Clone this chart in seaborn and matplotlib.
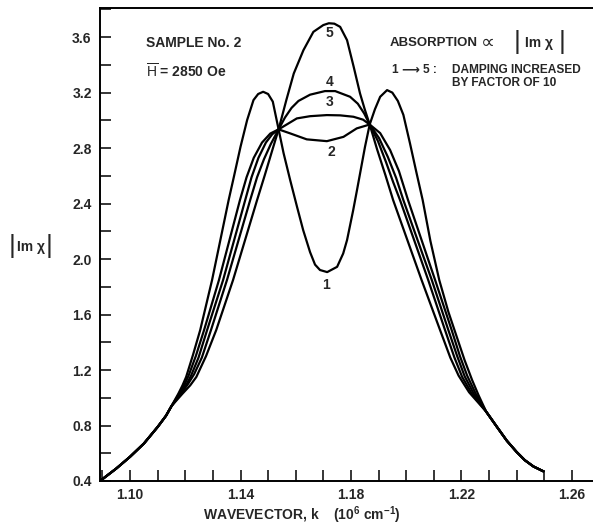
import matplotlib
matplotlib.use("Agg")
import matplotlib.pyplot as plt
from matplotlib.ticker import MultipleLocator
import pandas as pd
import seaborn as sns

# --- dane (k w 1e6 cm^-1, |Im chi|) ---
tail_left_k = [1.0891, 1.0950, 1.1000, 1.1050, 1.1100, 1.1130, 1.1150]
tail_left_v = [0.40, 0.49, 0.575, 0.67, 0.79, 0.87, 0.94]
tail_right_k = [1.2290, 1.2329, 1.2365, 1.2400, 1.2430, 1.2461, 1.2497]
tail_right_v = [0.90, 0.79, 0.69, 0.61, 0.55, 0.505, 0.47]

k1 = [1.1175, 1.1190, 1.1203, 1.1228, 1.1254, 1.1297, 1.1357, 1.1376, 1.1400, 1.1424,
      1.1447, 1.1464, 1.1482, 1.1500, 1.1517, 1.1538, 1.1556, 1.1580, 1.1605, 1.1627,
      1.1652, 1.1670, 1.1688, 1.1714, 1.1750, 1.1772, 1.1786, 1.1808, 1.1822, 1.1851,
      1.1868, 1.1887, 1.1906, 1.1931, 1.1950, 1.1970, 1.1990, 1.2014, 1.2038, 1.2060,
      1.2088, 1.2120, 1.2153, 1.2185, 1.2212, 1.2239, 1.2262]
v1 = [1.03, 1.09, 1.15, 1.31, 1.488, 1.849, 2.425, 2.593, 2.809, 3.002,
      3.146, 3.19, 3.206, 3.19, 3.135, 2.935, 2.764, 2.569, 2.375, 2.209,
      2.05, 1.96, 1.921, 1.906, 1.944, 2.04, 2.137, 2.35, 2.497, 2.809,
      2.97, 3.08, 3.17, 3.218, 3.20, 3.14, 3.04, 2.834, 2.618, 2.425,
      2.13, 1.849, 1.62, 1.43, 1.27, 1.128, 1.02]

k2 = [1.1178, 1.1198, 1.1212, 1.1238, 1.1268, 1.1322, 1.1398, 1.1422, 1.1448, 1.1478,
      1.1508, 1.1538, 1.1580, 1.1640, 1.1713, 1.1773, 1.1821, 1.1868, 1.1906, 1.1942,
      1.1974, 1.2007, 1.2105, 1.2165, 1.2195, 1.2221, 1.2252]
v2 = [1.03, 1.10, 1.16, 1.30, 1.488, 1.849, 2.425, 2.59, 2.73, 2.84,
      2.905, 2.935, 2.906, 2.863, 2.85, 2.881, 2.942, 2.97, 2.908, 2.786,
      2.634, 2.425, 1.849, 1.488, 1.30, 1.16, 1.03]

k3 = [1.1182, 1.1205, 1.1221, 1.1248, 1.1279, 1.1337, 1.1417, 1.1440, 1.1465, 1.1492,
      1.1515, 1.1538, 1.1604, 1.1652, 1.1713, 1.1761, 1.1809, 1.1844, 1.1868, 1.1902,
      1.1934, 1.1964, 1.1990, 1.2093, 1.2153, 1.2185, 1.2212, 1.2245]
v3 = [1.03, 1.10, 1.16, 1.29, 1.488, 1.849, 2.425, 2.59, 2.73, 2.84,
      2.90, 2.935, 3.014, 3.03, 3.038, 3.036, 3.026, 3.005, 2.97, 2.872,
      2.735, 2.584, 2.425, 1.849, 1.488, 1.30, 1.155, 1.03]

k4 = [1.1185, 1.1210, 1.1232, 1.1260, 1.1293, 1.1351, 1.1435, 1.1460, 1.1485, 1.1510,
      1.1538, 1.1561, 1.1585, 1.1610, 1.1652, 1.1706, 1.1743, 1.1797, 1.1825, 1.1848,
      1.1868, 1.1898, 1.1927, 1.1953, 1.1978, 1.2080, 1.2141, 1.2175, 1.2203, 1.2238]
v4 = [1.03, 1.10, 1.17, 1.29, 1.488, 1.849, 2.425, 2.59, 2.72, 2.83,
      2.935, 3.02, 3.09, 3.14, 3.185, 3.211, 3.211, 3.17, 3.12, 3.05,
      2.97, 2.85, 2.70, 2.555, 2.425, 1.849, 1.488, 1.29, 1.15, 1.03]

k5 = [1.1190, 1.1218, 1.1240, 1.1275, 1.1312, 1.1373, 1.1460, 1.1488, 1.1512, 1.1538,
      1.1566, 1.1593, 1.1628, 1.1664, 1.1700, 1.1720, 1.1740, 1.1761, 1.1786, 1.1810,
      1.1833, 1.1850, 1.1868, 1.1895, 1.1925, 1.1953, 1.2056, 1.2123, 1.2160, 1.2190,
      1.2228]
v5 = [1.03, 1.09, 1.15, 1.30, 1.488, 1.849, 2.425, 2.605, 2.764, 2.935,
      3.146, 3.338, 3.506, 3.638, 3.687, 3.700, 3.697, 3.674, 3.578, 3.386,
      3.194, 3.08, 2.97, 2.79, 2.605, 2.425, 1.849, 1.488, 1.29, 1.16,
      1.04]

curve_names = ['1', '2', '3', '4', '5']

x_ticks = [1.10, 1.14, 1.18, 1.22, 1.26]
y_ticks = [0.4, 0.8, 1.2, 1.6, 2.0, 2.4, 2.8, 3.2, 3.6]

rows = []
for name, kk, vv in zip(curve_names, [k1, k2, k3, k4, k5], [v1, v2, v3, v4, v5]):
    for k, v in zip(tail_left_k + kk + tail_right_k, tail_left_v + vv + tail_right_v):
        rows.append({'curve': name, 'k': k, 'v': v})
df = pd.DataFrame(rows)

sns.set_style('ticks')
FONT = 'Liberation Sans'
plt.rcParams['font.family'] = [FONT, 'DejaVu Sans']
plt.rcParams['mathtext.fontset'] = 'custom'
plt.rcParams['mathtext.rm'] = FONT
plt.rcParams['mathtext.default'] = 'regular'

W, H = 593, 527
fig = plt.figure(figsize=(W / 100, H / 100), dpi=100)
ax = fig.add_axes([100 / W, 46 / H, 493 / W, 473 / H])

sns.lineplot(data=df, x='k', y='v', units='curve', estimator=None, color='black',
             linewidth=1.6, ax=ax, legend=False)

ax.set_xlim(1.0891, 1.2677)
ax.set_ylim(0.4, 3.81)
ax.set_xticks(x_ticks)
ax.set_xticklabels([f'{t:.2f}' for t in x_ticks])
ax.xaxis.set_minor_locator(MultipleLocator(0.01))
ax.set_yticks(y_ticks)
ax.set_yticklabels([f'{t:.1f}' for t in y_ticks])
ax.yaxis.set_minor_locator(MultipleLocator(0.2))
ax.tick_params(which='both', direction='in', length=8, width=1.1, color='black')
ax.tick_params(axis='x', which='both', pad=5, labelsize=10, top=False)
ax.tick_params(axis='y', which='both', pad=6, labelsize=10, right=False)
for lab in ax.get_xticklabels() + ax.get_yticklabels():
    lab.set_fontweight('bold')
for side in ['left', 'bottom', 'top']:
    ax.spines[side].set_linewidth(1.4)
    ax.spines[side].set_color('black')
ax.spines['right'].set_visible(False)
ax.set_xlabel('')
ax.set_ylabel('')

# numery krzywych
lab_kw = dict(ha='center', va='center', fontsize=10, fontweight='bold')
ax.text(1.1722, 3.63, '5', **lab_kw)
ax.text(1.1724, 3.28, '4', **lab_kw)
ax.text(1.1724, 3.13, '3', **lab_kw)
ax.text(1.1730, 2.77, '2', **lab_kw)
ax.text(1.1708, 1.81, '1', **lab_kw)

def ftxt(x, y, s, **kw):
    fig.text(x / W, 1 - y / H, s, **kw)

tkw = dict(va='center', fontsize=10, fontweight='bold')
ftxt(146, 43, 'SAMPLE No. 2', ha='left', **tkw)
ftxt(146, 71, r'$\overline{\mathrm{H}}$ = 2850 Oe', ha='left', **tkw)
ftxt(390, 43, 'ABSORPTION', ha='left', fontsize=9.5, fontweight='bold', va='center')
ftxt(488, 43, '\u221d', ha='center', va='center', fontsize=14)
ftxt(517, 42, '|', ha='center', va='center', fontsize=19)
ftxt(539, 43, 'Im \u03c7', ha='center', **tkw)
ftxt(562, 42, '|', ha='center', va='center', fontsize=19)
skw = dict(va='center', fontsize=8.6, fontweight='bold')
ftxt(395, 70, '1', ha='center', **skw)
ftxt(410, 70, '\u27f6', ha='center', va='center', fontsize=9, fontweight='bold',
     family=['DejaVu Sans'])
ftxt(423, 70, '5 :', ha='left', **skw)
ftxt(452, 70, 'DAMPING INCREASED', ha='left', **skw)
ftxt(452, 83, 'BY FACTOR OF 10', ha='left', **skw)

# etykieta osi Y
ftxt(12, 246, '|', ha='center', va='center', fontsize=19)
ftxt(31, 247, 'Im \u03c7', ha='center', va='center', fontsize=10, fontweight='bold')
ftxt(49, 246, '|', ha='center', va='center', fontsize=19)

# etykieta osi X
ftxt(302, 515, r'WAVEVECTOR, k    (10$^{6}$ cm$^{-1}$)', ha='center', va='center',
     fontsize=10, fontweight='bold')

fig.savefig('out.png', dpi=100)
plt.close(fig)
